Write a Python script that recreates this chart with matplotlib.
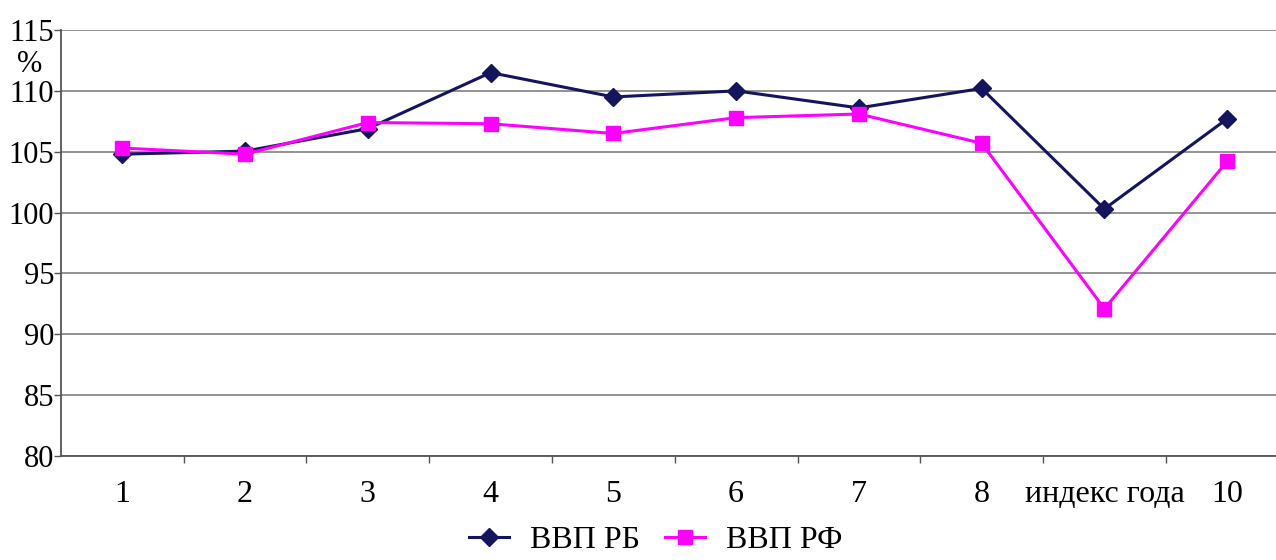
import matplotlib.pyplot as plt

# GDP growth indices, % to previous year
labels = ['1', '2', '3', '4', '5', '6', '7', '8', 'индекс года', '10']
gdp_rb = [104.8, 105.05, 106.9, 111.5, 109.5, 110.0, 108.6, 110.2, 100.3, 107.7]
gdp_rf = [105.3, 104.8, 107.4, 107.3, 106.5, 107.8, 108.1, 105.7, 92.1, 104.2]
y_ticks = [80, 85, 90, 95, 100, 105, 110, 115]

plt.rcParams['font.family'] = ['Liberation Serif', 'DejaVu Serif']

fig = plt.figure(figsize=(12.76, 5.6), dpi=100)
ax = fig.add_axes([0.0478, 0.1857, 0.9620, 0.7607])

x = list(range(len(labels)))
ax.plot(x, gdp_rb, color='#14145f', lw=2.2, marker='D', ms=9, label='ВВП РБ', zorder=3)
ax.plot(x, gdp_rf, color='#ff00ff', lw=2.2, marker='s', ms=10, label='ВВП РФ', zorder=3)

ax.set_xlim(-0.5, len(labels) - 0.5)
ax.set_ylim(80, 115)
ax.set_yticks(y_ticks)
ax.tick_params(axis='y', labelsize=22, length=5, width=1, color='#555555', pad=0)
ax.yaxis.grid(True, color='#808080', lw=1.2)
ax.set_axisbelow(True)

# category labels centred, ticks between categories
ax.set_xticks(x)
ax.set_xticklabels(labels, fontsize=23)
ax.tick_params(axis='x', length=0, pad=17)
ax.set_xticks([i + 0.5 for i in x[:-1]], minor=True)
ax.tick_params(axis='x', which='minor', length=5, width=1, color='#555555')

for side in ['top', 'right']:
    ax.spines[side].set_visible(False)
for side in ['left', 'bottom']:
    ax.spines[side].set_color('#555555')
    ax.spines[side].set_linewidth(1.3)

fig.text(0.013, 0.885, '%', fontsize=22, ha='left', va='center')

fig.legend(loc='lower center', bbox_to_anchor=(0.514, -0.042), ncol=2, frameon=False,
           fontsize=23, handlelength=1.25, columnspacing=0.8, handletextpad=0.65)

fig.savefig('out.png', dpi=100)
